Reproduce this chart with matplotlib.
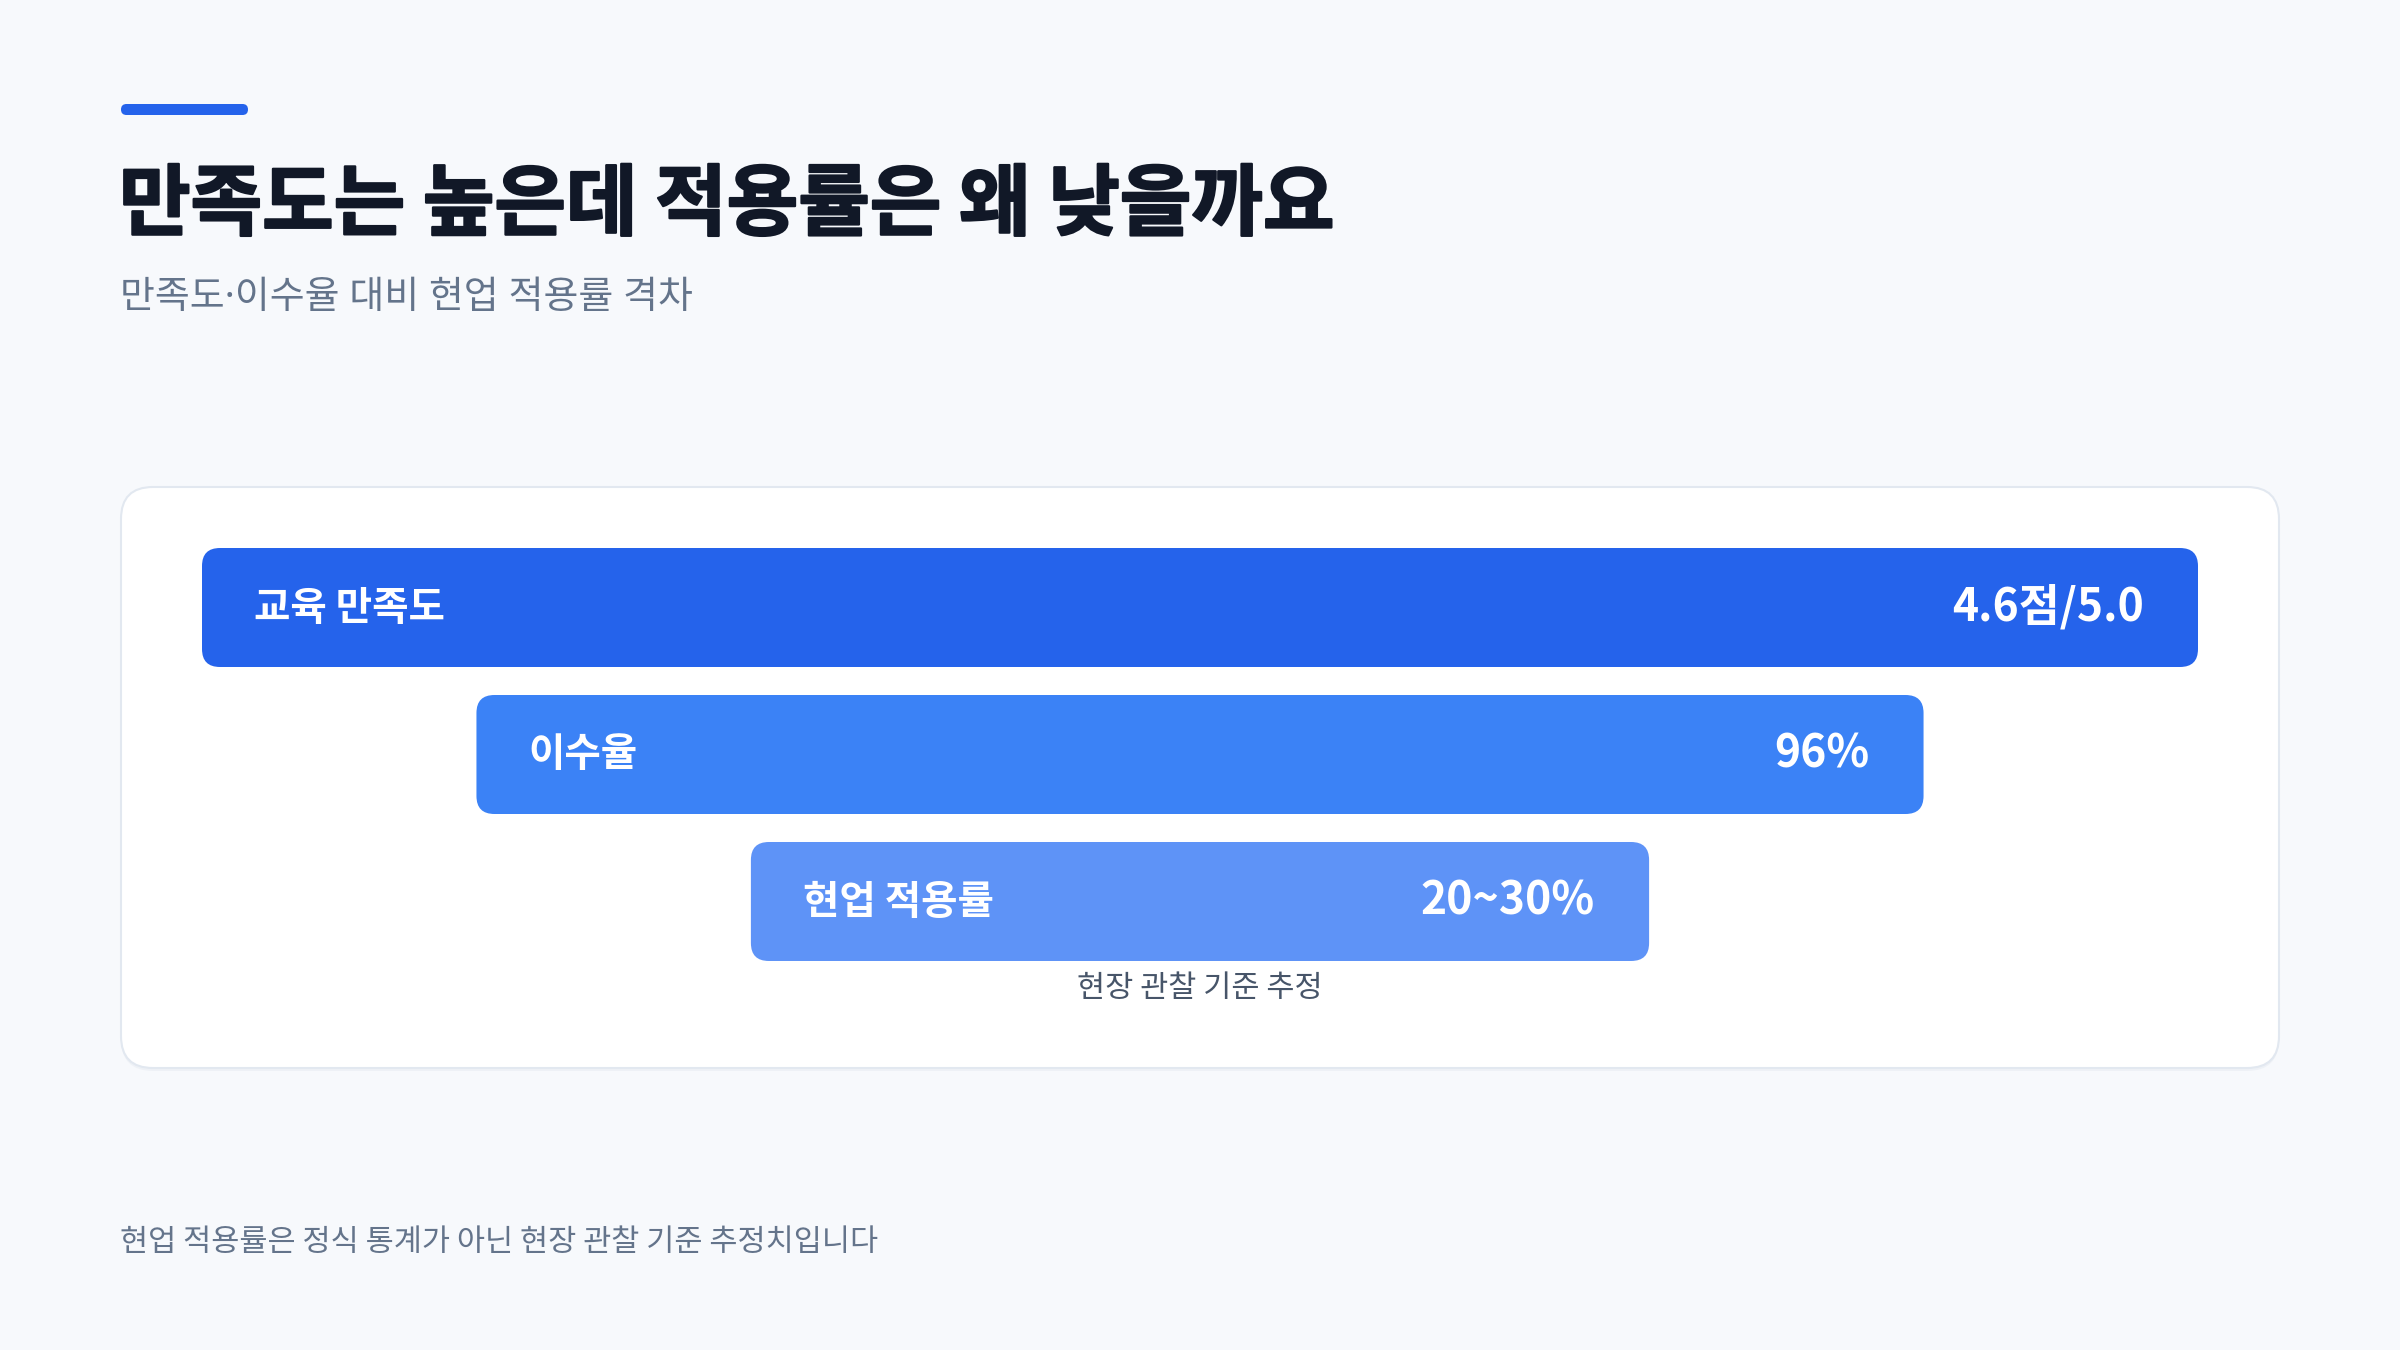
import matplotlib.pyplot as plt
import matplotlib.patheffects as pe
from matplotlib.patches import FancyBboxPatch

plt.rcParams['font.family'] = ['Noto Sans CJK KR', 'DejaVu Sans']

# Data
title = "만족도는 높은데 적용률은 왜 낮을까요"
subtitle = "만족도·이수율 대비 현업 적용률 격차"
stages = ["교육 만족도", "이수율", "현업 적용률"]
values = ["4.6점/5.0", "96%", "20~30%"]
funnel_width = [100, 72.5, 45]   # relative stage width (%)
colors = ["#2563eb", "#3b82f6", "#5e93f7"]
note = "현장 관찰 기준 추정"
footer = "현업 적용률은 정식 통계가 아닌 현장 관찰 기준 추정치입니다"

W, H = 2400, 1350
fig = plt.figure(figsize=(24, 13.5), dpi=100)
fig.patch.set_facecolor("#f7f9fc")
ax = fig.add_axes([0, 0, 1, 1])
ax.set_xlim(0, W)
ax.set_ylim(H, 0)
ax.axis("off")

# accent line
ax.add_patch(FancyBboxPatch((121, 104), 127, 11, boxstyle="round,pad=0,rounding_size=5.5",
                            fc="#2563eb", ec="none"))

ax.text(119, 229, title, fontsize=56, fontweight="heavy", color="#111827", va="baseline",
        path_effects=[pe.withStroke(linewidth=1.6, foreground="#111827")])
ax.text(120, 308, subtitle, fontsize=27.3, color="#64748b", va="baseline",
        family=['Noto Sans', 'Noto Sans CJK KR'])

# card (soft shadow + white panel)
ax.add_patch(FancyBboxPatch((121, 490), 2158, 581, boxstyle="round,pad=0,rounding_size=32",
                            fc="#e9edf3", ec="none", alpha=0.6))
ax.add_patch(FancyBboxPatch((121, 487), 2158, 581, boxstyle="round,pad=0,rounding_size=32",
                            fc="white", ec="#e2e8f0", lw=1.5))

# funnel bars
cx = 1200
full = 1996
bar_h = 119
top = 548
gap = 28
for i, (lab, val, w, c) in enumerate(zip(stages, values, funnel_width, colors)):
    bw = full * w / 100
    x0 = cx - bw / 2
    y0 = top + i * (bar_h + gap)
    ax.add_patch(FancyBboxPatch((x0, y0), bw, bar_h, boxstyle="round,pad=0,rounding_size=18",
                                fc=c, ec="none"))
    ym = y0 + bar_h / 2 - 4
    ax.text(x0 + 52, ym, lab, fontsize=28.5, fontweight="bold", color="white",
            va="center_baseline", ha="left")
    ax.text(x0 + bw - 54, ym - 1, val, fontsize=32, fontweight="bold", color="white",
            va="center_baseline", ha="right")

ax.text(cx, 985, note, fontsize=22, color="#475569", ha="center", va="center_baseline")
ax.text(120, 1239, footer, fontsize=22, color="#64748b", ha="left", va="center_baseline")

fig.savefig("out.png", dpi=100, facecolor=fig.get_facecolor())
